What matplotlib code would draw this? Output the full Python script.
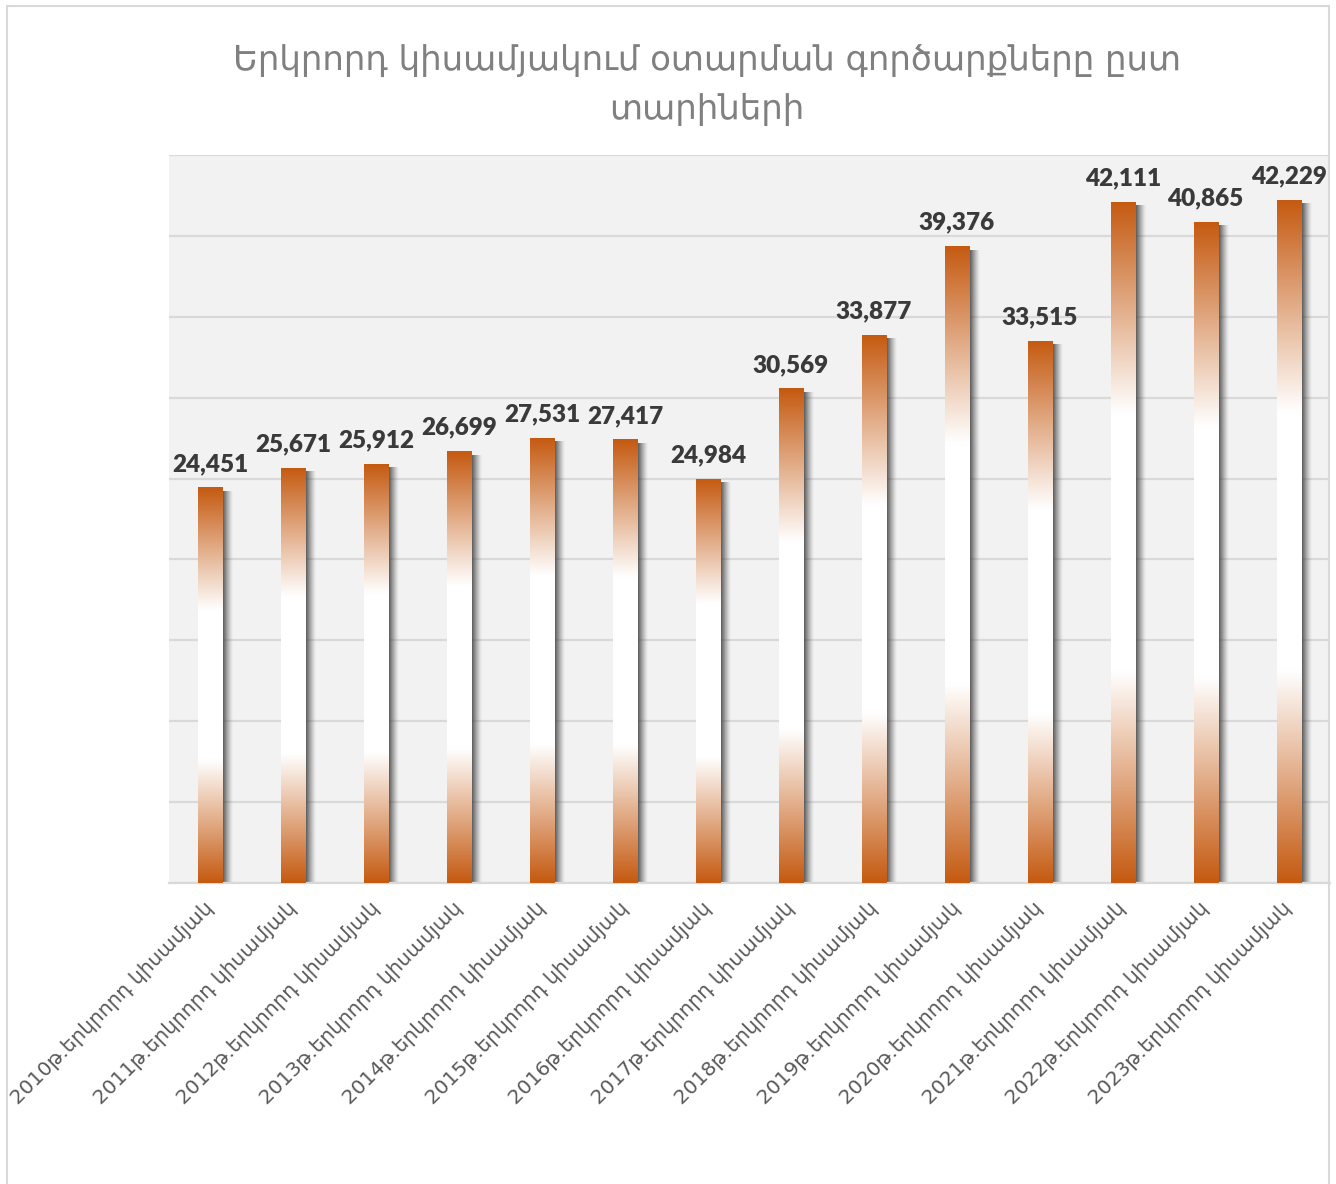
import numpy as np
import matplotlib
matplotlib.use("Agg")
import matplotlib.pyplot as plt
from matplotlib.colors import to_rgb
from matplotlib.lines import Line2D

# Data
categories = [f"{y}թ.երկրորդ կիսամյակ" for y in range(2010, 2024)]
values = [24451, 25671, 25912, 26699, 27531, 27417, 24984,
          30569, 33877, 39376, 33515, 42111, 40865, 42229]
title = "Երկրորդ կիսամյակում օտարման գործարքները ըստ\nտարիների"

ORANGE = to_rgb("#C55A11")
WHITE = (1.0, 1.0, 1.0)

fig = plt.figure(figsize=(13.36, 11.84), dpi=100)
ax = fig.add_axes([169 / 1336, 1 - 883 / 1184, (1330 - 169) / 1336, (883 - 155) / 1184])
ax.set_facecolor("#F2F2F2")

x = np.arange(len(categories))
bar_w = 0.29
bars = ax.bar(x, values, width=bar_w, color="none", edgecolor="none", zorder=3)

# vertical gradient: orange -> white (31%) ... white (69%) -> orange
n = 256
t = np.linspace(0, 1, n)  # 0 = top, 1 = bottom
mix = np.clip(np.maximum((0.31 - t) / 0.31, (t - 0.69) / 0.31), 0, 1)
grad = np.zeros((n, 1, 3))
for c in range(3):
    grad[:, 0, c] = WHITE[c] * (1 - mix) + ORANGE[c] * mix

# soft drop shadow on the right side of each bar
sw = 0.13
shadow = np.zeros((1, 32, 4))
shadow[0, :, :3] = 0.25
shadow[0, :, 3] = np.linspace(0.95, 0.0, 32) ** 1.2

for b in bars:
    x0, w, h = b.get_x(), b.get_width(), b.get_height()
    ax.imshow(shadow, extent=(x0 + w, x0 + w + sw, 0, h - 250),
              aspect="auto", zorder=2, interpolation="bicubic")
    im = ax.imshow(grad, extent=(x0, x0 + w, 0, h), aspect="auto",
                   zorder=3, interpolation="bilinear")
    im.set_clip_path(b)

for b, v in zip(bars, values):
    ax.annotate(f"{v:,}", (b.get_x() + b.get_width() / 2, v),
                xytext=(0, 9), textcoords="offset points",
                ha="center", va="bottom", fontsize=17.5, fontweight="heavy",
                color="#3A3A3A", family=["Lato", "DejaVu Sans"])

ax.set_xlim(-0.5, len(categories) - 0.5)
ax.set_ylim(0, 45000)
ax.set_yticks(np.arange(0, 45001, 5000))
ax.yaxis.grid(True, color="#D9D9D9", linewidth=1.6, zorder=1)
ax.set_axisbelow(True)
ax.tick_params(axis="y", length=0, labelleft=False)
ax.tick_params(axis="x", length=0, pad=16)
ax.set_xticks(x)
ax.set_xticklabels(categories, rotation=45, ha="right", va="center",
                   rotation_mode="anchor", fontsize=14.5, color="#595959",
                   family=["DejaVu Sans"])
for s in ["left", "right", "top"]:
    ax.spines[s].set_visible(False)
ax.spines["bottom"].set_color("#D9D9D9")
ax.spines["bottom"].set_linewidth(1.6)

fig.text(707 / 1336, 1 - 85 / 1184, title, ha="center", va="center",
         fontsize=24.5, color="#808080", family=["DejaVu Sans"],
         linespacing=1.6)

# outer chart frame
fc = "#D9D9D9"
fig.add_artist(Line2D([7 / 1336, 7 / 1336], [0, 1 - 6 / 1184], color=fc, lw=1.5, transform=fig.transFigure))
fig.add_artist(Line2D([1329 / 1336, 1329 / 1336], [0, 1 - 6 / 1184], color=fc, lw=1.5, transform=fig.transFigure))
fig.add_artist(Line2D([7 / 1336, 1329 / 1336], [1 - 6 / 1184, 1 - 6 / 1184], color=fc, lw=1.5, transform=fig.transFigure))

fig.savefig("out.png", dpi=100)
